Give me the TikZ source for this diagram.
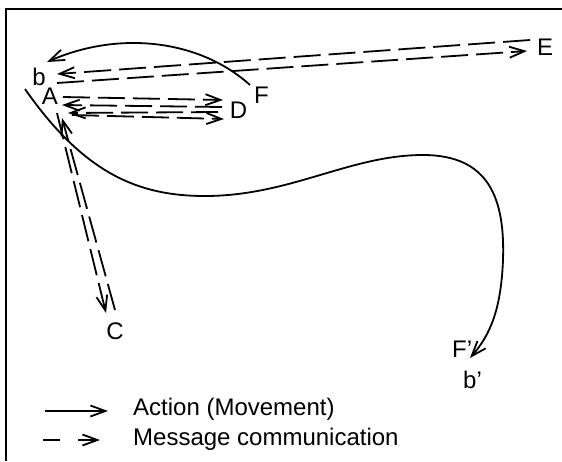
\documentclass[tikz,border=0pt]{standalone}
\usepackage{fontspec}
\setmainfont{Liberation Sans}
\usetikzlibrary{arrows.meta}
\begin{document}
\begin{tikzpicture}[x=1pt,y=-1pt,
  act/.style={line width=1.8pt,-{Straight Barb[length=15pt,width=11pt]}},
  msg/.style={act,dash pattern=on 27pt off 8pt},
  lbl/.style={font=\fontsize{24}{28}\selectfont,inner sep=0pt,anchor=base},
  lblw/.style={lbl,anchor=base west}]
\useasboundingbox (0,0) rectangle (562,461);
% frame
\draw[line width=2pt] (6,461) -- (6,9) -- (562,9);
% labels
\node[lbl] (b) at (39,85) {b};
\node[lbl] (A) at (50,104) {A};
\node[lbl] (F) at (261.5,103) {F};
\node[lbl] (D) at (238.5,118) {D};
\node[lbl] (E) at (545,55) {E};
\node[lbl] (C) at (115,339) {C};
\node[lblw] (Fp) at (452,357) {F’};
\node[lblw] (bp) at (463,388) {b’};
% connector end points
\coordinate (fS) at (250,85);  \coordinate (fT) at (47,62);
\coordinate (mS) at (25,89);   \coordinate (mT) at (470,358);
\coordinate (e1) at (530,40);  \coordinate (b1) at (57,74);
\coordinate (b2) at (57,83);   \coordinate (e2) at (527,51);
\coordinate (a1) at (63,97);   \coordinate (d1) at (223,100);
\coordinate (d2) at (222,107); \coordinate (a2) at (62,105);
\coordinate (d3) at (218,112); \coordinate (a3) at (68,113);
\coordinate (a4) at (72,115);  \coordinate (d4) at (224,119);
\coordinate (a5) at (57,113);  \coordinate (c1) at (106,313);
\coordinate (c2) at (115,310); \coordinate (a6) at (62,118);
% actions
\draw[act] (fS) .. controls (200,40) and (120,30) .. (fT);
\draw[act] (mS) .. controls (85,175) and (140,196) .. (205,196)
  .. controls (290,196) and (350,155) .. (423,155)
  .. controls (490,155) and (505,200) .. (503,260)
  .. controls (501,310) and (490,335) .. (mT);
% messages
\draw[msg] (e1) -- (b1);
\draw[msg] (b2) -- (e2);
\draw[msg] (a1) -- (d1);
\draw[msg] (d2) -- (a2);
\draw[msg] (d3) -- (a3);
\draw[msg] (a4) -- (d4);
\draw[msg] (a5) -- (c1);
\draw[msg] (c2) -- (a6);
% legend
\coordinate (l1) at (45,411);  \coordinate (l2) at (108,411);
\coordinate (l3) at (43,440);  \coordinate (l4) at (100,440);
\draw[act] (l1) -- (l2);
\draw[act,dash pattern=on 17pt off 18pt] (l3) -- (l4);
\node[lblw] (leg1) at (133,415) {Action (Movement)};
\node[lblw] (leg2) at (133,445) {Message communication};
\end{tikzpicture}
\end{document}
